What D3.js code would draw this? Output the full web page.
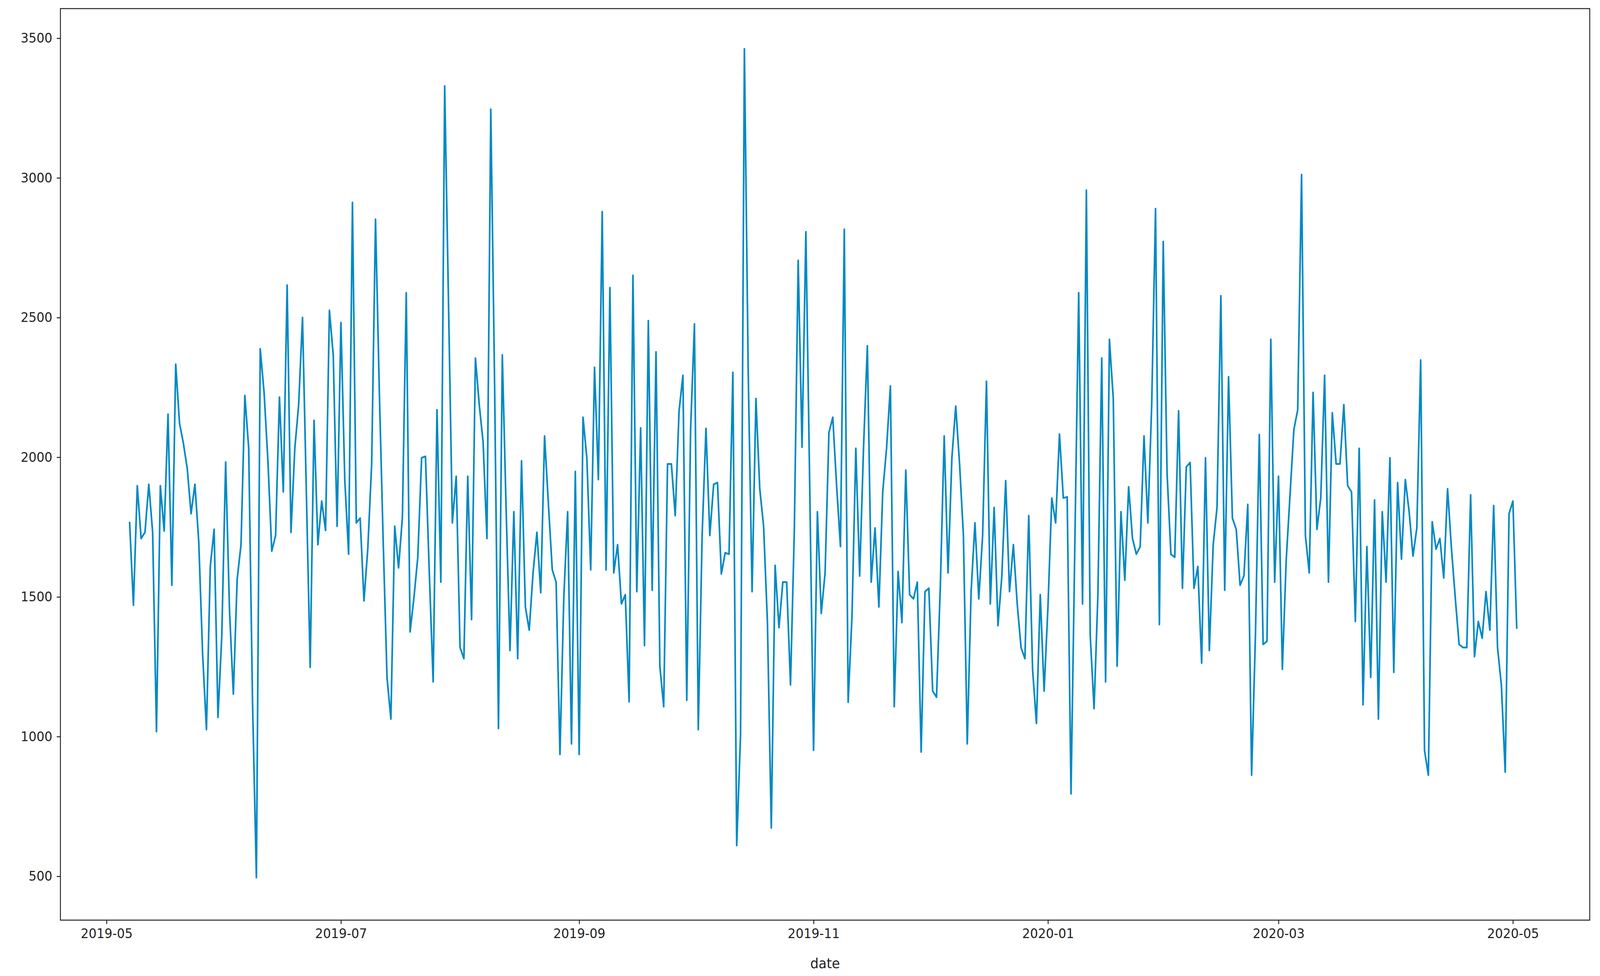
<!DOCTYPE html>
<html>
<head>
<meta charset="utf-8">
<script src="https://cdn.jsdelivr.net/npm/d3@7"></script>
<style>
  html, body { margin: 0; padding: 0; background: #fff; overflow: hidden; }
  svg { display: block; width: 100vw; height: 100vh; }
  text { font-family: "DejaVu Sans", sans-serif; fill: #222; }
</style>
</head>
<body>
<div id="chart"></div>
<script>
// daily series, one value per day starting at startDate
const startDate = '2019-05-07';
const values = [
  1769,1470,1898,1709,1731,1903,1731,1018,1898,1736,2154,1542,2333,2121,2050,1960,1798,1903,1698,1297,
  1025,1609,1742,1069,1363,1983,1453,1152,1564,1687,2221,2032,1118,495,2388,2232,1987,1664,1720,2215,
  1876,2616,1731,2032,2188,2500,1876,1248,2132,1687,1843,1738,2526,2366,1753,2482,1920,1653,2912,1765,
  1782,1486,1675,1976,2852,2232,1698,1210,1063,1753,1604,1787,2589,1375,1497,1642,1998,2003,1586,1196,
  2170,1553,3329,2550,1765,1932,1319,1279,1932,1419,2355,2188,2054,1709,3246,2255,1029,2366,1809,1308,
  1805,1279,1987,1464,1381,1586,1731,1515,2076,1831,1597,1553,936,1497,1805,974,1949,936,2143,1998,
  1597,2322,1920,2879,1597,2607,1586,1687,1475,1508,1125,2651,1519,2105,1326,2489,1524,2377,1252,1107,
  1976,1976,1791,2166,2293,1130,2099,2477,1025,1720,2103,1720,1903,1909,1582,1658,1653,2304,610,1007,
  3462,2299,1519,2210,1887,1753,1408,673,1613,1390,1553,1553,1185,1742,2705,2036,2807,1898,951,1805,
  1441,1586,2088,2143,1898,1680,2816,1123,1430,2032,1575,2032,2399,1553,1747,1464,1876,2032,2255,1107,
  1591,1408,1954,1508,1493,1553,945,1519,1531,1163,1141,1542,2076,1586,1998,2183,1976,1720,974,1519,
  1765,1493,1720,2272,1475,1820,1397,1575,1916,1519,1687,1475,1319,1279,1791,1241,1047,1508,1163,1464,
  1854,1765,2083,1854,1858,795,1690,2589,1475,2956,1363,1100,1508,2355,1196,2422,2210,1252,1805,1560,
  1894,1709,
  1653,1680,2076,1765,2188,2890,1401,2772,1943,1653,1642,2166,1531,1965,1981,1531,1609,1263,1998,1308,
  1686,1820,2578,1524,2288,1782,1742,1542,1575,1831,862,1363,2081,1330,1341,2422,1553,1932,1241,1631,
  1865,2099,2170,3012,1720,1586,2232,1742,1854,2293,1553,2159,1976,1976,2188,1898,1876,1412,2032,1114,
  1680,1212,1847,1063,1805,1553,1998,1230,1909,1635,1920,1805,1646,1747,2348,951,862,1769,1671,1709,
  1568,1887,1675,1497,1330,1319,1319,1865,1286,1412,1352,1519,1381,1827,1319,1185,873,1798,1843,1386
];
const xDomain = ['2019-04-19', '2020-05-21'];
const yDomain = [343, 3606];
const yTicks = [500, 1000, 1500, 2000, 2500, 3000, 3500];
const xTicks = ['2019-05-01','2019-07-01','2019-09-01','2019-11-01','2020-01-01','2020-03-01','2020-05-01'];
const xLabel = 'date';

const width = 4369, height = 2498;
const margin = { top: 22, right: 28, bottom: 143, left: 165 };
const parse = d3.utcParse('%Y-%m-%d');
const start = parse(startDate);
const data = values.map((v, i) => ({ date: d3.utcDay.offset(start, i), value: v }));

const svg = d3.select('#chart').append('svg')
  .attr('viewBox', `0 0 ${width} ${height}`)
  .attr('preserveAspectRatio', 'none');

const x = d3.scaleUtc().domain(xDomain.map(parse))
  .range([margin.left, width - margin.right]);
const y = d3.scaleLinear().domain(yDomain)
  .range([height - margin.bottom, margin.top]);

// axes
const xAxis = svg.append('g')
  .attr('transform', `translate(0,${height - margin.bottom})`)
  .call(d3.axisBottom(x).tickValues(xTicks.map(parse))
    .tickFormat(d3.utcFormat('%Y-%m')).tickSize(10).tickPadding(12).tickSizeOuter(0));
const yAxis = svg.append('g')
  .attr('transform', `translate(${margin.left},0)`)
  .call(d3.axisLeft(y).tickValues(yTicks).tickFormat(d3.format('d'))
    .tickSize(10).tickPadding(12).tickSizeOuter(0));
[xAxis, yAxis].forEach(g => {
  g.selectAll('text').style('font-size', '34px').attr('fill', '#222');
  g.selectAll('line').attr('stroke', '#222').attr('stroke-width', 2.5);
  g.select('.domain').remove();
});

// frame
svg.append('rect')
  .attr('x', margin.left).attr('y', margin.top)
  .attr('width', width - margin.left - margin.right)
  .attr('height', height - margin.bottom - margin.top)
  .attr('fill', 'none').attr('stroke', '#222').attr('stroke-width', 2.5);

svg.append('text')
  .attr('x', (margin.left + width - margin.right) / 2)
  .attr('y', 2478)
  .attr('text-anchor', 'middle')
  .style('font-size', '36px')
  .text(xLabel);

const line = d3.line().x(d => x(d.date)).y(d => y(d.value));
svg.append('path')
  .datum(data)
  .attr('d', line)
  .attr('fill', 'none')
  .attr('stroke', '#0089c4')
  .attr('stroke-width', 4.5)
  .attr('stroke-linejoin', 'round');
</script>
</body>
</html>
